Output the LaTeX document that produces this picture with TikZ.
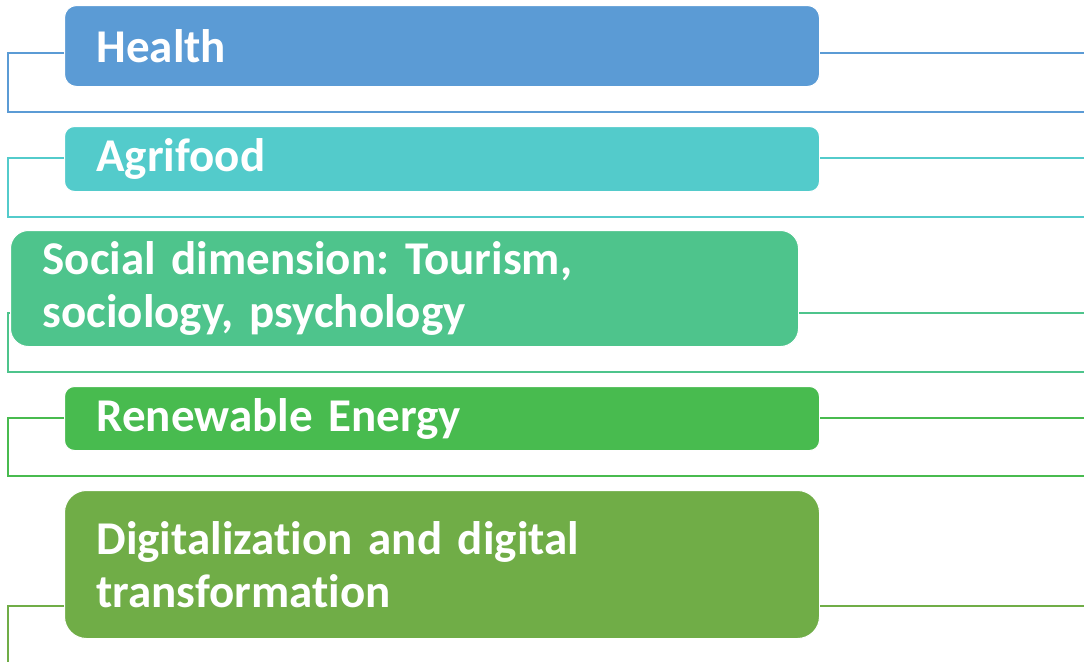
\documentclass[tikz,border=0pt]{standalone}
\usepackage{fontspec}
\setmainfont{Carlito}[Ligatures=NoCommon, WordSpace=0.7]
\frenchspacing

\definecolor{healthblue}{HTML}{5B9BD5}
\definecolor{agriteal}{HTML}{53CBCB}
\definecolor{socialgreen}{HTML}{4EC48C}
\definecolor{energygreen}{HTML}{48BB4F}
\definecolor{digitgreen}{HTML}{70AD47}

\tikzset{
  topicbox/.style={rectangle, draw=white, line width=1pt, text=white, anchor=north west,
    align=left, inner xsep=32pt, inner ysep=0pt,
    font=\fontsize{47}{53}\selectfont\bfseries},
  bracket/.style={line width=2.6pt}
}

\begin{document}
\begin{tikzpicture}[x=1pt,y=-1pt]
\useasboundingbox (0,0) rectangle (1084,662);

% boxes
\node[topicbox, fill=healthblue, rounded corners=12pt, text width=691pt, minimum height=81pt] (health) at (64,5) {Health};
\node[topicbox, fill=agriteal, rounded corners=10pt, text width=691pt, minimum height=65pt] (agri) at (64,126) {Agrifood};
\node[topicbox, fill=socialgreen, rounded corners=18pt, text width=724pt, minimum height=116pt] (social) at (10,230) {Social dimension: Tourism,\\sociology, psychology};
\node[topicbox, fill=energygreen, rounded corners=10pt, text width=691pt, minimum height=64pt] (energy) at (64,386) {Renewable Energy};
\node[topicbox, fill=digitgreen, rounded corners=22pt, text width=691pt, minimum height=148pt] (digit) at (64,490) {Digitalization and digital\\transformation};

% left and right ends of the brackets
\coordinate (hl) at (8,53);    \coordinate (hb) at (8,112);   \coordinate (hr) at (1084,53);  \coordinate (hbr) at (1084,112);
\coordinate (al) at (8,158);   \coordinate (ab) at (8,217);   \coordinate (ar) at (1084,158); \coordinate (abr) at (1084,217);
\coordinate (sl) at (8,313);   \coordinate (sb) at (8,372);   \coordinate (sr) at (1084,313); \coordinate (sbr) at (1084,372);
\coordinate (el) at (8,418);   \coordinate (eb) at (8,476);   \coordinate (er) at (1084,418); \coordinate (ebr) at (1084,476);
\coordinate (dl) at (8,606);   \coordinate (db) at (8,662);   \coordinate (dr) at (1084,606);

\draw[bracket, healthblue] (health.west |- hl) -| (hb) -- (hbr);
\draw[bracket, healthblue] (health.east |- hr) -- (hr);
\draw[bracket, agriteal] (agri.west |- al) -| (ab) -- (abr);
\draw[bracket, agriteal] (agri.east |- ar) -- (ar);
\draw[bracket, socialgreen] (social.west |- sl) -| (sb) -- (sbr);
\draw[bracket, socialgreen] (social.east |- sr) -- (sr);
\draw[bracket, energygreen] (energy.west |- el) -| (eb) -- (ebr);
\draw[bracket, energygreen] (energy.east |- er) -- (er);
\draw[bracket, digitgreen] (digit.west |- dl) -| (db);
\draw[bracket, digitgreen] (digit.east |- dr) -- (dr);
\end{tikzpicture}
\end{document}
